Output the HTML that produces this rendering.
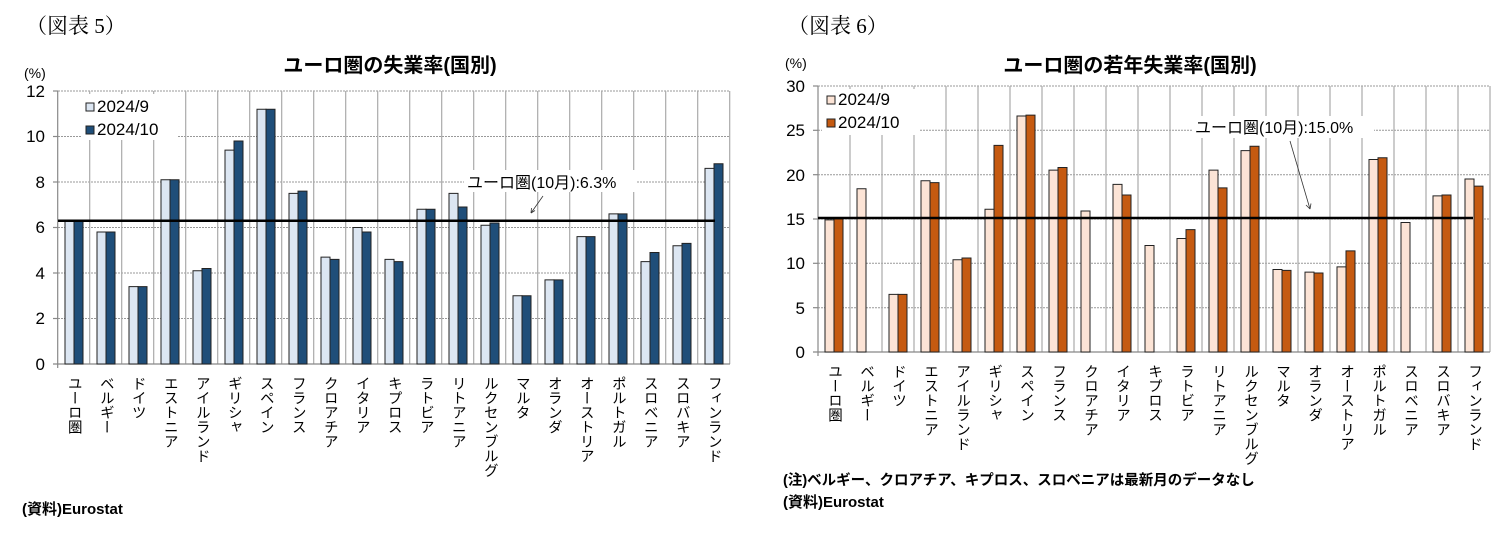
<!DOCTYPE html>
<html><head><meta charset="utf-8"><style>
body{margin:0;background:#fff;}
svg{display:block;font-family:"Liberation Sans","Noto Sans CJK JP",sans-serif;}
.vl{writing-mode:vertical-rl;font-size:14.5px;fill:#000;}
.tk{font-size:17px;text-anchor:end;}
.ttl{font-size:20px;font-weight:bold;text-anchor:middle;}
.ser{font-family:"Liberation Serif","Noto Serif CJK SC",serif;font-size:21px;}
.l1{fill:#dce6f2;stroke:#222;stroke-width:1;}
.d1{fill:#1f4e79;stroke:#222;stroke-width:1;}
.l2{fill:#fce4d6;stroke:#222;stroke-width:1;}
.d2{fill:#c55a11;stroke:#222;stroke-width:1;}
rect{vector-effect:non-scaling-stroke;}
</style></head><body>
<svg width="1506" height="535" viewBox="0 0 1506 535">
<text x="26" y="33" class="ser">（図表 5）</text>
<text x="788" y="33" class="ser">（図表 6）</text>
<text x="390" y="72" class="ttl">ユーロ圏の失業率(国別)</text>
<text x="1130" y="72" class="ttl">ユーロ圏の若年失業率(国別)</text>
<text x="24" y="78" font-size="14">(%)</text>
<text x="785" y="68" font-size="14">(%)</text>

<g stroke="#999" stroke-width="1" stroke-dasharray="2,1">
<line x1="58" y1="91" x2="730" y2="91"/><line x1="58" y1="136.5" x2="730" y2="136.5"/><line x1="58" y1="182" x2="730" y2="182"/><line x1="58" y1="227.5" x2="730" y2="227.5"/><line x1="58" y1="273" x2="730" y2="273"/><line x1="58" y1="318.5" x2="730" y2="318.5"/>
</g>
<g stroke="#aaa" stroke-width="1.2">
<line x1="89.7" y1="91" x2="89.7" y2="364"/><line x1="121.7" y1="91" x2="121.7" y2="364"/><line x1="153.7" y1="91" x2="153.7" y2="364"/><line x1="185.7" y1="91" x2="185.7" y2="364"/><line x1="217.7" y1="91" x2="217.7" y2="364"/><line x1="249.7" y1="91" x2="249.7" y2="364"/><line x1="281.7" y1="91" x2="281.7" y2="364"/><line x1="313.7" y1="91" x2="313.7" y2="364"/><line x1="345.7" y1="91" x2="345.7" y2="364"/><line x1="377.7" y1="91" x2="377.7" y2="364"/><line x1="409.7" y1="91" x2="409.7" y2="364"/><line x1="441.7" y1="91" x2="441.7" y2="364"/><line x1="473.7" y1="91" x2="473.7" y2="364"/><line x1="505.7" y1="91" x2="505.7" y2="364"/><line x1="537.7" y1="91" x2="537.7" y2="364"/><line x1="569.7" y1="91" x2="569.7" y2="364"/><line x1="601.7" y1="91" x2="601.7" y2="364"/><line x1="633.7" y1="91" x2="633.7" y2="364"/><line x1="665.7" y1="91" x2="665.7" y2="364"/><line x1="697.7" y1="91" x2="697.7" y2="364"/><line x1="729.7" y1="91" x2="729.7" y2="364"/>
</g>
<g stroke="#888" stroke-width="1.2"><line x1="57.7" y1="91" x2="57.7" y2="368"/><line x1="53" y1="364" x2="730" y2="364"/>
<line x1="53" y1="91" x2="58" y2="91"/><line x1="53" y1="136.5" x2="58" y2="136.5"/><line x1="53" y1="182" x2="58" y2="182"/><line x1="53" y1="227.5" x2="58" y2="227.5"/><line x1="53" y1="273" x2="58" y2="273"/><line x1="53" y1="318.5" x2="58" y2="318.5"/></g>
<g class="tk"><text x="45" y="97">12</text><text x="45" y="142">10</text><text x="45" y="188">8</text><text x="45" y="233">6</text><text x="45" y="279">4</text><text x="45" y="324">2</text><text x="45" y="370">0</text></g>
<rect x="82" y="94" width="96" height="46" fill="#fff" stroke="none"/>
<g transform="translate(0,364) scale(1,-22.75)">
<rect class="l1" x="65" y="0" width="9" height="6.3"/><rect class="d1" x="74" y="0" width="9" height="6.3"/>
<rect class="l1" x="97" y="0" width="9" height="5.8"/><rect class="d1" x="106" y="0" width="9" height="5.8"/>
<rect class="l1" x="129" y="0" width="9" height="3.4"/><rect class="d1" x="138" y="0" width="9" height="3.4"/>
<rect class="l1" x="161" y="0" width="9" height="8.1"/><rect class="d1" x="170" y="0" width="9" height="8.1"/>
<rect class="l1" x="193" y="0" width="9" height="4.1"/><rect class="d1" x="202" y="0" width="9" height="4.2"/>
<rect class="l1" x="225" y="0" width="9" height="9.4"/><rect class="d1" x="234" y="0" width="9" height="9.8"/>
<rect class="l1" x="257" y="0" width="9" height="11.2"/><rect class="d1" x="266" y="0" width="9" height="11.2"/>
<rect class="l1" x="289" y="0" width="9" height="7.5"/><rect class="d1" x="298" y="0" width="9" height="7.6"/>
<rect class="l1" x="321" y="0" width="9" height="4.7"/><rect class="d1" x="330" y="0" width="9" height="4.6"/>
<rect class="l1" x="353" y="0" width="9" height="6.0"/><rect class="d1" x="362" y="0" width="9" height="5.8"/>
<rect class="l1" x="385" y="0" width="9" height="4.6"/><rect class="d1" x="394" y="0" width="9" height="4.5"/>
<rect class="l1" x="417" y="0" width="9" height="6.8"/><rect class="d1" x="426" y="0" width="9" height="6.8"/>
<rect class="l1" x="449" y="0" width="9" height="7.5"/><rect class="d1" x="458" y="0" width="9" height="6.9"/>
<rect class="l1" x="481" y="0" width="9" height="6.1"/><rect class="d1" x="490" y="0" width="9" height="6.2"/>
<rect class="l1" x="513" y="0" width="9" height="3.0"/><rect class="d1" x="522" y="0" width="9" height="3.0"/>
<rect class="l1" x="545" y="0" width="9" height="3.7"/><rect class="d1" x="554" y="0" width="9" height="3.7"/>
<rect class="l1" x="577" y="0" width="9" height="5.6"/><rect class="d1" x="586" y="0" width="9" height="5.6"/>
<rect class="l1" x="609" y="0" width="9" height="6.6"/><rect class="d1" x="618" y="0" width="9" height="6.6"/>
<rect class="l1" x="641" y="0" width="9" height="4.5"/><rect class="d1" x="650" y="0" width="9" height="4.9"/>
<rect class="l1" x="673" y="0" width="9" height="5.2"/><rect class="d1" x="682" y="0" width="9" height="5.3"/>
<rect class="l1" x="705" y="0" width="9" height="8.6"/><rect class="d1" x="714" y="0" width="9" height="8.8"/>
</g>
<line x1="58" y1="220.7" x2="715" y2="220.7" stroke="#000" stroke-width="2.5"/>
<rect x="86" y="103" width="8" height="8" class="l1"/><text x="97" y="112" font-size="17">2024/9</text>
<rect x="86" y="126" width="8" height="8" class="d1"/><text x="97" y="135" font-size="17">2024/10</text>
<rect x="464" y="170" width="172" height="22" fill="#fff"/>
<text x="467" y="188" font-size="16">ユーロ圏(10月):6.3%</text>
<line x1="543" y1="196" x2="531" y2="213" stroke="#333" stroke-width="0.8"/><path d="M531 213 l0.5 -5 M531 213 l4 -2.5" stroke="#333" stroke-width="0.8" fill="none"/>
<g class="vl">
<text x="73.7" y="376">ユーロ圏</text><text x="105.7" y="376">ベルギー</text><text x="137.7" y="376">ドイツ</text><text x="169.7" y="376">エストニア</text><text x="201.7" y="376">アイルランド</text><text x="233.7" y="376">ギリシャ</text><text x="265.7" y="376">スペイン</text><text x="297.7" y="376">フランス</text><text x="329.7" y="376">クロアチア</text><text x="361.7" y="376">イタリア</text><text x="393.7" y="376">キプロス</text><text x="425.7" y="376">ラトビア</text><text x="457.7" y="376">リトアニア</text><text x="489.7" y="376">ルクセンブルグ</text><text x="521.7" y="376">マルタ</text><text x="553.7" y="376">オランダ</text><text x="585.7" y="376">オーストリア</text><text x="617.7" y="376">ポルトガル</text><text x="649.7" y="376">スロベニア</text><text x="681.7" y="376">スロバキア</text><text x="713.7" y="376">フィンランド</text>
</g>
<text x="22" y="514" font-size="15" font-weight="bold">(資料)Eurostat</text>

<g stroke="#999" stroke-width="1" stroke-dasharray="2,1">
<line x1="818" y1="86" x2="1490" y2="86"/><line x1="818" y1="130.3" x2="1490" y2="130.3"/><line x1="818" y1="174.7" x2="1490" y2="174.7"/><line x1="818" y1="219" x2="1490" y2="219"/><line x1="818" y1="263.3" x2="1490" y2="263.3"/><line x1="818" y1="307.7" x2="1490" y2="307.7"/>
</g>
<g stroke="#aaa" stroke-width="1.2">
<line x1="850" y1="86" x2="850" y2="352"/><line x1="882" y1="86" x2="882" y2="352"/><line x1="914" y1="86" x2="914" y2="352"/><line x1="946" y1="86" x2="946" y2="352"/><line x1="978" y1="86" x2="978" y2="352"/><line x1="1010" y1="86" x2="1010" y2="352"/><line x1="1042" y1="86" x2="1042" y2="352"/><line x1="1074" y1="86" x2="1074" y2="352"/><line x1="1106" y1="86" x2="1106" y2="352"/><line x1="1138" y1="86" x2="1138" y2="352"/><line x1="1170" y1="86" x2="1170" y2="352"/><line x1="1202" y1="86" x2="1202" y2="352"/><line x1="1234" y1="86" x2="1234" y2="352"/><line x1="1266" y1="86" x2="1266" y2="352"/><line x1="1298" y1="86" x2="1298" y2="352"/><line x1="1330" y1="86" x2="1330" y2="352"/><line x1="1362" y1="86" x2="1362" y2="352"/><line x1="1394" y1="86" x2="1394" y2="352"/><line x1="1426" y1="86" x2="1426" y2="352"/><line x1="1458" y1="86" x2="1458" y2="352"/><line x1="1490" y1="86" x2="1490" y2="352"/>
</g>
<g stroke="#888" stroke-width="1.2"><line x1="818" y1="86" x2="818" y2="356"/><line x1="813" y1="352" x2="1490" y2="352"/>
<line x1="813" y1="86" x2="818" y2="86"/><line x1="813" y1="130.3" x2="818" y2="130.3"/><line x1="813" y1="174.7" x2="818" y2="174.7"/><line x1="813" y1="219" x2="818" y2="219"/><line x1="813" y1="263.3" x2="818" y2="263.3"/><line x1="813" y1="307.7" x2="818" y2="307.7"/></g>
<g class="tk"><text x="805" y="92">30</text><text x="805" y="136">25</text><text x="805" y="181">20</text><text x="805" y="225">15</text><text x="805" y="269">10</text><text x="805" y="314">5</text><text x="805" y="358">0</text></g>
<rect x="822" y="89" width="98" height="46" fill="#fff" stroke="none"/>
<g transform="translate(0,352) scale(1,-8.87)">
<rect class="l2" x="825" y="0" width="9" height="14.9"/><rect class="d2" x="834" y="0" width="9" height="15.0"/>
<rect class="l2" x="857" y="0" width="9" height="18.4"/>
<rect class="l2" x="889" y="0" width="9" height="6.5"/><rect class="d2" x="898" y="0" width="9" height="6.5"/>
<rect class="l2" x="921" y="0" width="9" height="19.3"/><rect class="d2" x="930" y="0" width="9" height="19.1"/>
<rect class="l2" x="953" y="0" width="9" height="10.4"/><rect class="d2" x="962" y="0" width="9" height="10.6"/>
<rect class="l2" x="985" y="0" width="9" height="16.1"/><rect class="d2" x="994" y="0" width="9" height="23.3"/>
<rect class="l2" x="1017" y="0" width="9" height="26.6"/><rect class="d2" x="1026" y="0" width="9" height="26.7"/>
<rect class="l2" x="1049" y="0" width="9" height="20.5"/><rect class="d2" x="1058" y="0" width="9" height="20.8"/>
<rect class="l2" x="1081" y="0" width="9" height="15.9"/>
<rect class="l2" x="1113" y="0" width="9" height="18.9"/><rect class="d2" x="1122" y="0" width="9" height="17.7"/>
<rect class="l2" x="1145" y="0" width="9" height="12.0"/>
<rect class="l2" x="1177" y="0" width="9" height="12.8"/><rect class="d2" x="1186" y="0" width="9" height="13.8"/>
<rect class="l2" x="1209" y="0" width="9" height="20.5"/><rect class="d2" x="1218" y="0" width="9" height="18.5"/>
<rect class="l2" x="1241" y="0" width="9" height="22.7"/><rect class="d2" x="1250" y="0" width="9" height="23.2"/>
<rect class="l2" x="1273" y="0" width="9" height="9.3"/><rect class="d2" x="1282" y="0" width="9" height="9.2"/>
<rect class="l2" x="1305" y="0" width="9" height="9.0"/><rect class="d2" x="1314" y="0" width="9" height="8.9"/>
<rect class="l2" x="1337" y="0" width="9" height="9.6"/><rect class="d2" x="1346" y="0" width="9" height="11.4"/>
<rect class="l2" x="1369" y="0" width="9" height="21.7"/><rect class="d2" x="1378" y="0" width="9" height="21.9"/>
<rect class="l2" x="1401" y="0" width="9" height="14.6"/>
<rect class="l2" x="1433" y="0" width="9" height="17.6"/><rect class="d2" x="1442" y="0" width="9" height="17.7"/>
<rect class="l2" x="1465" y="0" width="9" height="19.5"/><rect class="d2" x="1474" y="0" width="9" height="18.7"/>
</g>
<line x1="818" y1="218" x2="1473" y2="218" stroke="#000" stroke-width="2.5"/>
<rect x="827" y="96" width="8" height="8" class="l2"/><text x="838" y="105" font-size="17">2024/9</text>
<rect x="827" y="119" width="8" height="8" class="d2"/><text x="838" y="128" font-size="17">2024/10</text>
<rect x="1192" y="116" width="182" height="22" fill="#fff"/>
<text x="1195" y="133" font-size="16">ユーロ圏(10月):15.0%</text>
<line x1="1290" y1="141" x2="1310" y2="209" stroke="#333" stroke-width="0.8"/><path d="M1310 209 l-4 -4 M1310 209 l1 -5.5" stroke="#333" stroke-width="0.8" fill="none"/>
<g class="vl">
<text x="834" y="364">ユーロ圏</text><text x="866" y="364">ベルギー</text><text x="898" y="364">ドイツ</text><text x="930" y="364">エストニア</text><text x="962" y="364">アイルランド</text><text x="994" y="364">ギリシャ</text><text x="1026" y="364">スペイン</text><text x="1058" y="364">フランス</text><text x="1090" y="364">クロアチア</text><text x="1122" y="364">イタリア</text><text x="1154" y="364">キプロス</text><text x="1186" y="364">ラトビア</text><text x="1218" y="364">リトアニア</text><text x="1250" y="364">ルクセンブルグ</text><text x="1282" y="364">マルタ</text><text x="1314" y="364">オランダ</text><text x="1346" y="364">オーストリア</text><text x="1378" y="364">ポルトガル</text><text x="1410" y="364">スロベニア</text><text x="1442" y="364">スロバキア</text><text x="1474" y="364">フィンランド</text>
</g>
<text x="783" y="485" font-size="14.5" font-weight="bold">(注)ベルギー、クロアチア、キプロス、スロベニアは最新月のデータなし</text>
<text x="783" y="507" font-size="15" font-weight="bold">(資料)Eurostat</text>
</svg>
</body></html>
